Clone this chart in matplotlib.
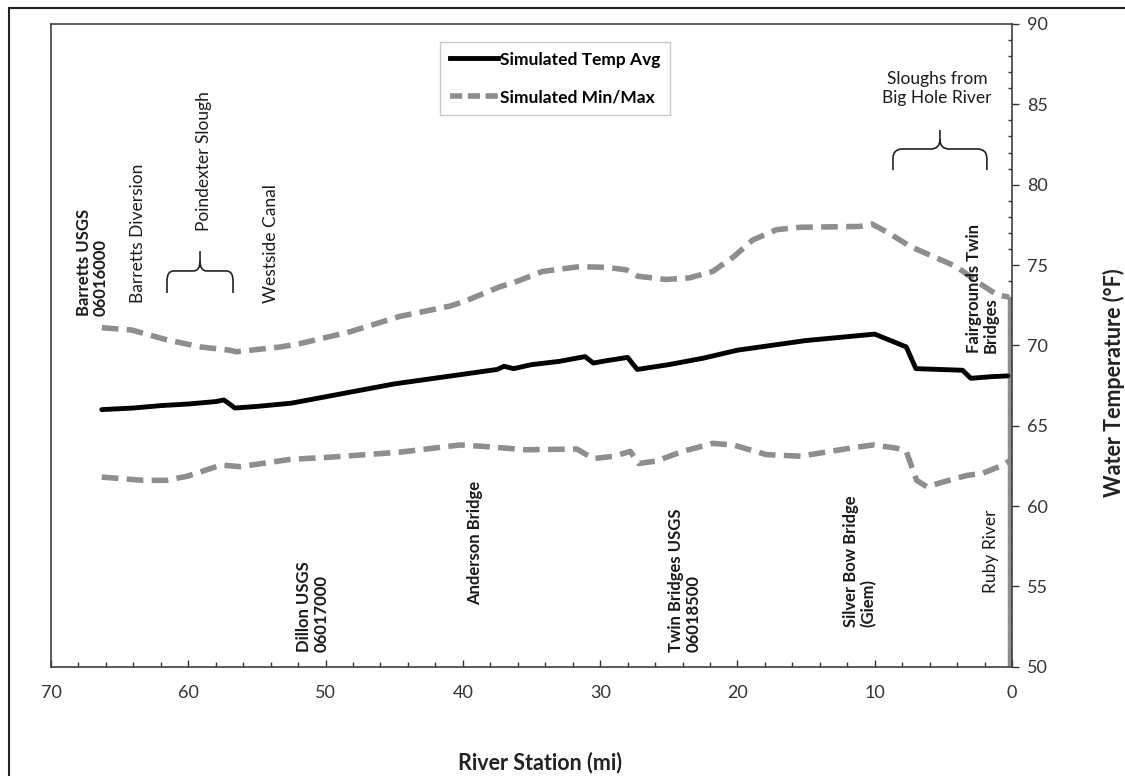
import matplotlib
matplotlib.use("Agg")
import matplotlib.pyplot as plt
from matplotlib.lines import Line2D
from matplotlib.patches import PathPatch, Rectangle
from matplotlib.path import Path
from matplotlib.ticker import MultipleLocator

plt.rcParams["font.family"] = ["Lato", "DejaVu Sans"]

# river mile vs simulated water temperature (deg F)
avg_miles = [66.3, 64.0, 62.0, 60.0, 58.0, 57.4, 56.6, 55.0, 52.5, 50.0, 47.5, 45.0, 42.5,
             40.0, 37.5, 37.0, 36.3, 35.0, 33.0, 31.1, 30.5, 29.5, 28.0, 27.3, 25.0, 22.5,
             20.0, 17.5, 15.0, 12.5, 10.0, 7.7, 7.0, 3.6, 3.0, 1.5, 0.3]
avg_temp = [66.0, 66.1, 66.25, 66.35, 66.5, 66.6, 66.1, 66.2, 66.4, 66.8, 67.2, 67.6, 67.9,
            68.2, 68.5, 68.7, 68.55, 68.8, 69.0, 69.3, 68.9, 69.05, 69.25, 68.5, 68.8, 69.2,
            69.7, 70.0, 70.3, 70.5, 70.7, 69.9, 68.55, 68.45, 67.95, 68.05, 68.1]

max_miles = [66.3, 64.1, 61.6, 59.1, 57.0, 56.5, 53.3, 51.9, 48.2, 44.6, 40.9, 39.7, 37.3,
             36.3, 34.2, 31.5, 29.5, 28.1, 27.25, 25.2, 23.5, 21.8, 20.3, 18.9, 17.15, 15.4,
             11.1, 10.2, 9.0, 7.4, 4.05, 2.35, 1.1, 0.2]
max_temp = [71.1, 70.95, 70.35, 69.9, 69.7, 69.6, 69.9, 70.1, 70.85, 71.8, 72.45, 72.8, 73.65,
            73.9, 74.6, 74.9, 74.85, 74.7, 74.3, 74.1, 74.2, 74.6, 75.5, 76.55, 77.2, 77.35,
            77.4, 77.55, 77.0, 76.15, 74.9, 73.85, 73.15, 73.0]

min_miles = [66.3, 63.3, 61.6, 60.1, 57.6, 56.2, 52.6, 49.5, 44.6, 40.2, 38.3, 35.4, 31.7,
             30.5, 29.0, 27.8, 27.2, 25.9, 24.0, 21.8, 20.3, 17.9, 15.4, 11.8, 10.1, 8.4,
             7.7, 6.95, 6.2, 5.0, 3.3, 2.1, 0.65, 0.2]
min_temp = [61.8, 61.6, 61.6, 61.85, 62.55, 62.45, 62.9, 63.05, 63.35, 63.8, 63.7, 63.5, 63.55,
            62.95, 63.1, 63.4, 62.65, 62.8, 63.4, 63.9, 63.8, 63.2, 63.1, 63.6, 63.8, 63.6,
            63.4, 61.6, 61.2, 61.5, 61.9, 62.05, 62.55, 62.8]

# drop of the min/max series at the mouth
end_miles = [0.12, 0.12]
end_temp = [50.0, 73.0]

# (label, mile, temp at start of text, bold)
site_labels = [
    ("Barretts USGS\n06016000", 66.98, 71.83, True),
    ("Barretts Diversion", 63.63, 72.64, False),
    ("Poindexter Slough", 58.89, 77.12, False),
    ("Westside Canal", 53.94, 72.64, False),
    ("Dillon USGS\n06017000", 50.95, 50.92, True),
    ("Anderson Bridge", 39.12, 53.85, True),
    ("Twin Bridges USGS\n06018500", 23.82, 50.92, True),
    ("Silver Bow Bridge\n(Giem)", 11.08, 52.48, True),
    ("Ruby River", 1.5, 54.6, False),
    ("Fairgrounds Twin\nBridges", 2.16, 69.53, True),
]

GRAY = "#8e8e8e"
W, H = 1125, 776


def brace(ax, left, right, y_end, y_mid, y_tip):
    xc = (left + right) / 2
    dx = (left - right) * 0.1
    dy = (y_mid - y_end) * 0.45
    verts = [
        (left, y_end), (left, y_mid - dy), (left, y_mid), (left - dx, y_mid),
        (xc + dx, y_mid), (xc, y_mid), (xc, y_mid + dy), (xc, y_tip),
        (xc, y_mid + dy), (xc, y_mid), (xc - dx, y_mid),
        (right + dx, y_mid), (right, y_mid), (right, y_mid - dy), (right, y_end),
    ]
    codes = [Path.MOVETO, Path.LINETO, Path.CURVE3, Path.CURVE3,
             Path.LINETO, Path.CURVE3, Path.CURVE3, Path.LINETO,
             Path.MOVETO, Path.CURVE3, Path.CURVE3,
             Path.LINETO, Path.CURVE3, Path.CURVE3, Path.LINETO]
    ax.add_patch(PathPatch(Path(verts, codes), fill=False, lw=1.2, ec="#222222"))


fig = plt.figure(figsize=(W / 100, H / 100), dpi=100)
fig.patches.append(Rectangle((9 / W, -0.1), 1.2, 1 - 8 / H + 0.1, transform=fig.transFigure,
                             fill=False, lw=1.5, ec="#222222"))
ax = fig.add_axes([51 / W, 1 - 666.7 / H, (1012 - 51) / W, (666.7 - 24) / H])

ax.plot(end_miles, end_temp, color=GRAY, lw=3.2, solid_capstyle="butt")
ax.plot(max_miles, max_temp, color=GRAY, lw=4.0, dashes=(3.0, 1.5))
ax.plot(min_miles, min_temp, color=GRAY, lw=4.0, dashes=(3.0, 1.5))
ax.plot(avg_miles, avg_temp, color="black", lw=3.5, solid_joinstyle="round",
        solid_capstyle="round")

ax.set_xlim(70, 0)
ax.set_ylim(50, 90)
ax.xaxis.set_major_locator(MultipleLocator(10))
ax.xaxis.set_minor_locator(MultipleLocator(2))
ax.yaxis.set_major_locator(MultipleLocator(5))
ax.yaxis.set_minor_locator(MultipleLocator(1))
ax.yaxis.tick_right()
ax.yaxis.set_label_position("right")
ax.tick_params(axis="x", which="major", direction="in", length=5, width=1, color="#333333",
               labelsize=13, labelcolor="#333333", pad=13)
ax.tick_params(axis="x", which="minor", direction="in", length=3.5, width=1, color="#333333")
ax.tick_params(axis="y", which="major", direction="out", length=5, width=1, color="#333333",
               labelsize=13, labelcolor="#333333", pad=6)
ax.tick_params(axis="y", which="minor", direction="in", length=3, width=1, color="#333333")
for s in ax.spines.values():
    s.set_color("#404040")
    s.set_linewidth(1.2)

fig.text(540 / W, 1 - 763 / H, "River Station (mi)", ha="center", va="center",
         fontsize=15.5, fontweight="bold", color="#222222")
fig.text(1114 / W, 1 - 383 / H, "Water Temperature (°F)", ha="center", va="center",
         rotation=90, fontsize=15.5, fontweight="bold", color="#222222")

for text, mile, temp, bold in site_labels:
    ax.text(mile, temp, text, rotation=90, ha="center", va="bottom", multialignment="left",
            fontsize=12 if bold else 12.5, fontweight="bold" if bold else "normal",
            color="#1a1a1a", linespacing=1.1)
ax.text(5.47, 86.0, "Sloughs from\nBig Hole River", ha="center", va="center", fontsize=12.5,
        color="#1a1a1a", linespacing=1.2)

brace(ax, 61.55, 56.74, 73.26, 74.63, 75.87)
brace(ax, 8.67, 1.83, 80.91, 82.22, 83.4)

handles = [Line2D([], [], color="black", lw=3.5),
           Line2D([], [], color=GRAY, lw=4.0, dashes=(2.2, 1.0))]
leg = ax.legend(handles, ["Simulated Temp Avg", "Simulated Min/Max"],
                loc="upper left", bbox_to_anchor=(440 / W, 1 - 42 / H),
                bbox_transform=fig.transFigure, frameon=True, fancybox=False,
                prop={"weight": "bold", "size": 12.5}, handlelength=2.8, handletextpad=0.1,
                borderpad=0.55, labelspacing=1.25, borderaxespad=0)
leg.get_frame().set_edgecolor("#bbbbbb")
leg.get_frame().set_linewidth(1.0)

fig.savefig("out.png", dpi=100)
